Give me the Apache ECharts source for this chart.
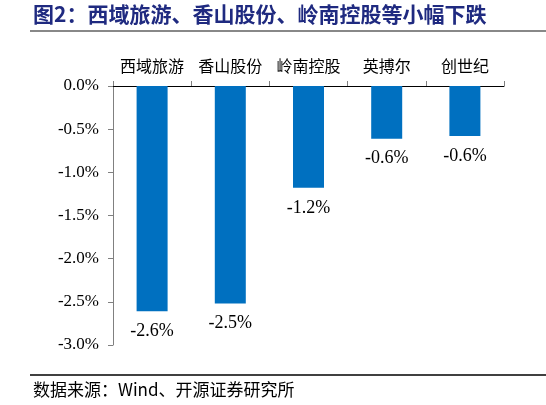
<!DOCTYPE html>
<html>
<head>
<meta charset="utf-8">
<script src="https://cdn.jsdelivr.net/npm/echarts@6/dist/echarts.min.js"></script>
<style>html,body{margin:0;padding:0;background:#fff;}#c{width:546px;height:405px;}</style>
</head>
<body>
<div id="c"></div>
<script>
var categories = ['西域旅游', '香山股份', '岭南控股', '英搏尔', '创世纪'];
var values = [-2.61, -2.52, -1.18, -0.61, -0.58];
var yTicks = { min: -3.0, max: 0.0, interval: 0.5 };
var titleText = '图2：西域旅游、香山股份、岭南控股等小幅下跌';
var sourceText = '数据来源：Wind、开源证券研究所';

var chart = echarts.init(document.getElementById('c'), null, { renderer: 'canvas' });
var serif = '"Liberation Serif", "Times New Roman", "Noto Sans CJK SC", serif';
chart.setOption({
  animation: false,
  backgroundColor: '#fff',
  grid: { left: 113, right: 42, top: 86, bottom: 60, containLabel: false },
  xAxis: {
    type: 'category',
    position: 'top',
    data: categories,
    axisLine: { show: true, lineStyle: { color: '#000', width: 1 } },
    axisTick: { show: true, length: 5, lineStyle: { color: '#808080' } },
    axisLabel: { interval: 0, hideOverlap: false, margin: 12, fontSize: 16, color: '#000', fontFamily: '"Noto Sans CJK SC", sans-serif' }
  },
  yAxis: {
    type: 'value',
    min: yTicks.min, max: yTicks.max, interval: yTicks.interval,
    axisLine: { show: true, lineStyle: { color: '#808080', width: 1 } },
    axisTick: { show: true, length: 5, lineStyle: { color: '#808080' } },
    splitLine: { show: false },
    axisLabel: {
      margin: 14, fontSize: 17, color: '#000', fontFamily: serif,
      formatter: function (v) { return v.toFixed(1) + '%'; }
    }
  },
  series: [{
    type: 'bar',
    data: values,
    barWidth: 31,
    itemStyle: { color: '#0070C0' },
    label: {
      show: true, position: 'bottom', distance: 11,
      fontSize: 18, color: '#000', fontFamily: serif,
      formatter: function (p) { return p.value.toFixed(1) + '%'; }
    }
  }],
  graphic: [
    { type: 'text', left: 33, top: 4, style: { text: titleText, fontSize: 21, fontWeight: 'bold', fill: '#1F2A80', fontFamily: '"Noto Sans CJK SC", sans-serif' } },
    { type: 'line', shape: { x1: 30, y1: 31, x2: 546, y2: 31 }, style: { stroke: '#888', lineWidth: 2 } },
    { type: 'line', shape: { x1: 30, y1: 375, x2: 546, y2: 375 }, style: { stroke: '#000', lineWidth: 1.5 } },
    { type: 'text', left: 33, top: 381, style: { text: sourceText, fontSize: 17, fill: '#000', fontFamily: '"Noto Sans CJK SC", sans-serif' } }
  ]
});
</script>
</body>
</html>
